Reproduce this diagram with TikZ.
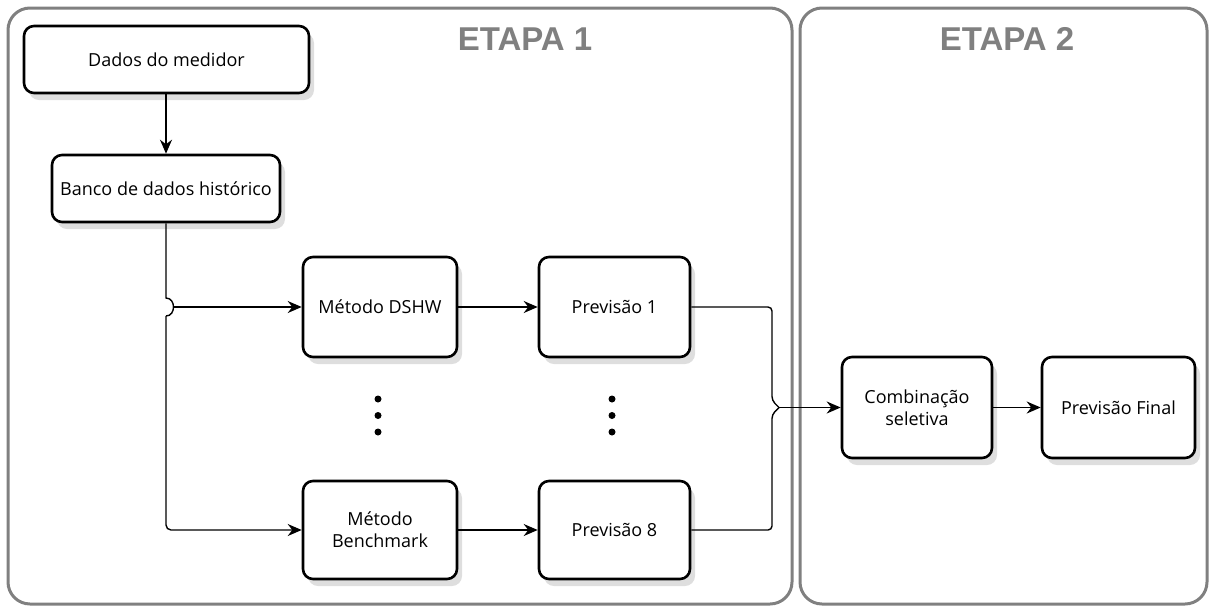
\documentclass[tikz,border=0pt]{standalone}
\usepackage{fontspec}
\setmainfont{Open Sans}
\newfontfamily\etapafont{Liberation Sans}
\usetikzlibrary{shadows,arrows.meta,calc}
\definecolor{panelgray}{HTML}{808080}
\begin{document}
\begin{tikzpicture}[x=1pt,y=-1pt,
 box/.style={draw=black, line width=2.6pt, rounded corners=10pt, fill=white, align=center,
   font=\fontsize{18}{22}\selectfont, inner sep=0pt,
   drop shadow={shadow xshift=5pt, shadow yshift=-7pt, opacity=0.13, fill=black}},
 panel/.style={draw=panelgray, line width=3pt, rounded corners=22pt},
 conn/.style={line width=1.4pt, -{Stealth[length=14pt,width=12pt]}},
 wire/.style={line width=1.4pt},
 etapa/.style={font=\etapafont\bfseries\fontsize{33}{36}\selectfont, text=panelgray, anchor=base},
 dot/.style={circle, fill=black, inner sep=0pt, minimum size=7pt}]
\useasboundingbox (0,0) rectangle (1211,606);
% panels
\draw[panel] (8,8) rectangle (792,604);
\draw[panel] (800,8) rectangle (1207,604);
\node[etapa] (e1) at (525,50) {ETAPA 1};
\node[etapa] (e2) at (1007,50) {ETAPA 2};
% nodes
\node[box, minimum width=285pt, minimum height=67pt] (dados) at (166.5,59.5) {Dados do medidor};
\node[box, minimum width=228pt, minimum height=67pt] (banco) at (166,188.5) {Banco de dados histórico};
\node[box, minimum width=154pt, minimum height=100pt] (dshw) at (380,307) {Método DSHW};
\node[box, minimum width=154pt, minimum height=98pt] (bench) at (380,530) {Método\\Benchmark};
\node[box, minimum width=151pt, minimum height=100pt] (prev1) at (614.5,307) {Previsão 1};
\node[box, minimum width=151pt, minimum height=98pt] (prev8) at (614.5,530) {Previsão 8};
\node[box, minimum width=150pt, minimum height=101pt] (comb) at (917,407.5) {Combinação\\seletiva};
\node[box, minimum width=153pt, minimum height=101pt] (final) at (1118.5,407.5) {Previsão Final};
% dots
\node[dot] (a1) at (378,399) {};
\node[dot] (a2) at (378,415.5) {};
\node[dot] (a3) at (378,432) {};
\node[dot] (b1) at (612,399) {};
\node[dot] (b2) at (612,415.5) {};
\node[dot] (b3) at (612,432) {};
% connectors
\draw[conn] (dados.south -| banco.south) -- (banco.north);
\coordinate (j) at (banco.south |- dshw.west);
\coordinate (ja) at ([yshift=9pt]j);
\coordinate (jb) at ([yshift=-9pt]j);
\draw[wire] (banco.south) -- (ja) .. controls +(10pt,0) and +(10pt,0) .. (jb);
\draw[conn, rounded corners=5pt] (jb) -- (jb |- bench.west) -- (bench.west);
\draw[conn] ([xshift=7.5pt]j) -- (dshw.west);
\draw[conn] (dshw.east) -- (prev1.west);
\draw[conn] (bench.east) -- (prev8.west);
\coordinate (m) at (772,407.5);
\coordinate (mt) at ([xshift=7pt]m);
\draw[wire, rounded corners=4pt] (prev1.east) -- (prev1.east -| m) -- ([yshift=7pt]m) -- (mt);
\draw[wire, rounded corners=4pt] (prev8.east) -- (prev8.east -| m) -- ([yshift=-7pt]m) -- (mt);
\draw[conn] (mt) -- (comb.west);
\draw[conn] (comb.east) -- (final.west);
\end{tikzpicture}
\end{document}
